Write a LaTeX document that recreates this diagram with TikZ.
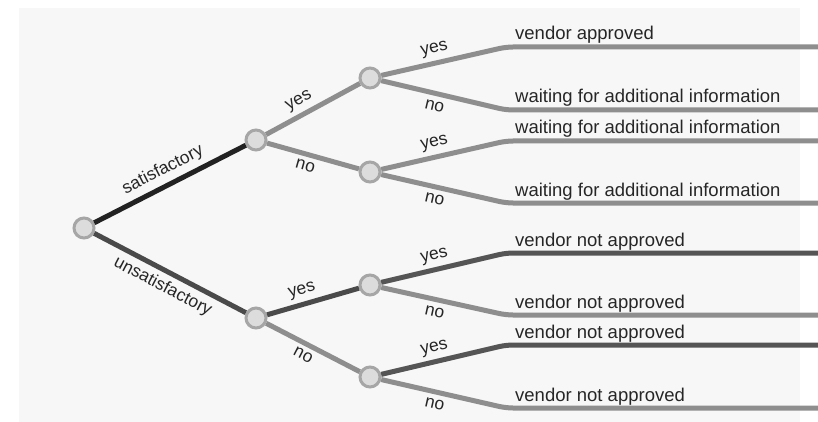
\documentclass[tikz,border=0pt]{standalone}
\usepackage{fontspec}
\setmainfont{Liberation Sans}
\begin{document}
\begin{tikzpicture}[x=1pt,y=-1pt,
  decision/.style={circle, minimum size=20pt, inner sep=0pt, fill=nodefill, draw=ringgray, line width=3pt},
  branch/.style={line width=5pt, line cap=butt},
  leafline/.style={branch, rounded corners=7pt},
  lbl/.style={font=\fontsize{17.5}{17.5}\selectfont, text=txt, sloped, inner sep=2pt},
  leaf/.style={font=\fontsize{18.5}{19}\selectfont, text=txt, anchor=base west, inner sep=0pt}]
\definecolor{bgpanel}{HTML}{F7F7F7}
\definecolor{nodefill}{HTML}{DCDCDC}
\definecolor{ringgray}{HTML}{A6A6A6}
\definecolor{txt}{HTML}{262626}
\definecolor{blackline}{HTML}{222222}
\definecolor{darkline}{HTML}{4A4A4A}
\definecolor{midline}{HTML}{555555}
\definecolor{lightline}{HTML}{8E8E8E}
\useasboundingbox (0,0) rectangle (818,422);
\fill[white] (0,0) rectangle (818,422);
\fill[bgpanel] (19,8) rectangle (800,422);

% decision nodes
\node[decision] (root) at (84,228) {};
\node[decision] (sat) at (256,140) {};
\node[decision] (uns) at (256,318) {};
\node[decision] (sy) at (370,78) {};
\node[decision] (sn) at (370,172) {};
\node[decision] (uy) at (370,285) {};
\node[decision] (un) at (370,377) {};

% leaf corners and ends
\foreach \i/\y in {1/47,2/110,3/141,4/203,5/253,6/315,7/345,8/408}{
  \coordinate (c\i) at (506,\y);
  \coordinate (e\i) at (818,\y);
}

% first level
\draw[branch, blackline] (root) -- node[lbl, above=3pt]{satisfactory} (sat);
\draw[branch, darkline] (root) -- node[lbl, below=3pt]{unsatisfactory} (uns);

% second level
\draw[branch, lightline] (sat) -- node[lbl, above=2pt, pos=.42]{yes} (sy);
\draw[branch, lightline] (sat) -- node[lbl, below=2pt, pos=.45]{no} (sn);
\draw[branch, darkline] (uns) -- node[lbl, above=2pt, pos=.42]{yes} (uy);
\draw[branch, lightline] (uns) -- node[lbl, below=2pt, pos=.45]{no} (un);

% outcome branches
\draw[leafline, lightline] (sy) -- node[lbl, above=2pt, pos=.45]{yes} (c1) -- (e1);
\draw[leafline, lightline] (sy) -- node[lbl, below=3pt, pos=.45]{no} (c2) -- (e2);
\draw[leafline, lightline] (sn) -- node[lbl, above=2pt, pos=.45]{yes} (c3) -- (e3);
\draw[leafline, lightline] (sn) -- node[lbl, below=3pt, pos=.45]{no} (c4) -- (e4);
\draw[leafline, midline] (uy) -- node[lbl, above=2pt, pos=.45]{yes} (c5) -- (e5);
\draw[leafline, lightline] (uy) -- node[lbl, below=3pt, pos=.45]{no} (c6) -- (e6);
\draw[leafline, midline] (un) -- node[lbl, above=2pt, pos=.45]{yes} (c7) -- (e7);
\draw[leafline, lightline] (un) -- node[lbl, below=3pt, pos=.45]{no} (c8) -- (e8);

% outcomes
\node[leaf] (o1) at (515,40) {vendor approved};
\node[leaf] (o2) at (515,103) {waiting for additional information};
\node[leaf] (o3) at (515,134) {waiting for additional information};
\node[leaf] (o4) at (515,196) {waiting for additional information};
\node[leaf] (o5) at (515,246) {vendor not approved};
\node[leaf] (o6) at (515,308) {vendor not approved};
\node[leaf] (o7) at (515,338) {vendor not approved};
\node[leaf] (o8) at (515,401) {vendor not approved};
\end{tikzpicture}
\end{document}
